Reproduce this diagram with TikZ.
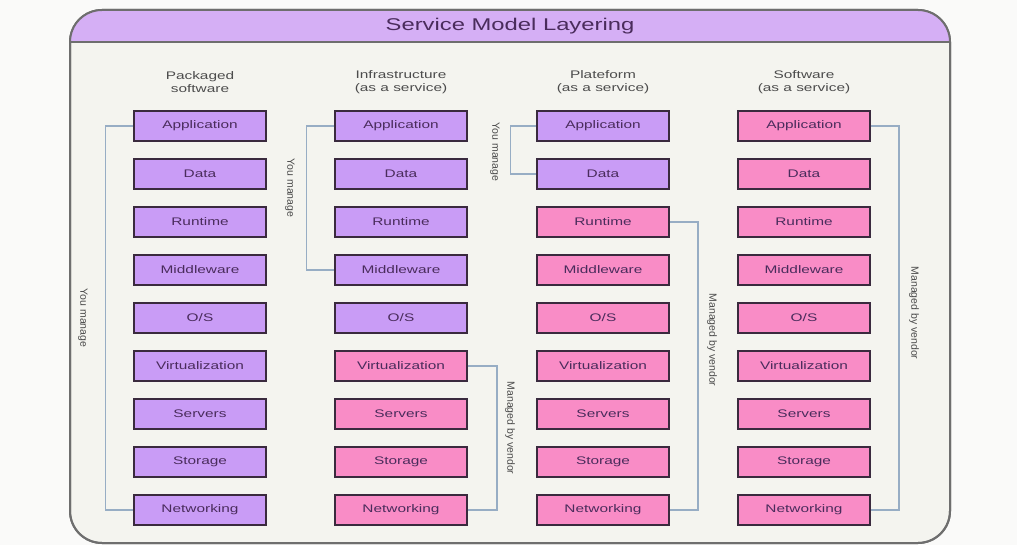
\documentclass[tikz,border=0pt]{standalone}
\usepackage{fontspec}
\setmainfont{Liberation Sans}
\newfontfamily\widefont[FakeStretch=1.4]{Liberation Sans}
\usepackage{tikz}
\usetikzlibrary{positioning}
\definecolor{pagebg}{HTML}{FAFAF9}
\definecolor{panelbg}{HTML}{F4F4EF}
\definecolor{framegray}{HTML}{6E6E6E}
\definecolor{titlefill}{HTML}{D5AFF5}
\definecolor{ownfill}{HTML}{C99CF6}
\definecolor{vendfill}{HTML}{F98CC6}
\definecolor{boxline}{HTML}{3A2A3E}
\definecolor{boxtext}{HTML}{4A2C5C}
\definecolor{linkblue}{HTML}{97ADC4}

\begin{document}
\begin{tikzpicture}[
    x=1pt, y=-1pt,
    layerbox/.style={rectangle, draw=boxline, line width=1.8pt, minimum width=132pt, minimum height=30pt, inner sep=0pt, text=boxtext, font=\widefont\fontsize{11}{13}\selectfont},
    own/.style={fill=ownfill},
    vendor/.style={fill=vendfill},
    header/.style={align=center, text=black!70, font=\widefont\fontsize{11}{13}\selectfont},
    bracket/.style={draw=linkblue, line width=1.2pt},
    sidelabel/.style={rotate=-90, text=black!70, font=\fontsize{10.5}{12}\selectfont},
]

% Page and panel
\fill[pagebg] (0,0) rectangle (1017,545);
\filldraw[fill=panelbg, draw=framegray, line width=2pt, rounded corners=32pt] (70,10) rectangle (950,543);
\begin{scope}
  \clip (70,10) rectangle (950,42);
  \fill[titlefill, rounded corners=32pt] (70,10) rectangle (950,543);
\end{scope}
\draw[framegray, line width=2pt, rounded corners=32pt] (70,10) rectangle (950,543);
\draw[framegray, line width=2pt] (70,42) -- (950,42);
\node[text=boxtext, font=\widefont\fontsize{17}{20}\selectfont] (title) at (510,26) {Service Model Layering};

% Column headers
\node[header] (h1) at (200,82) {Packaged\\software};
\node[header] (h2) at (401,82) {Infrastructure\\(as a service)};
\node[header] (h3) at (603,82) {Plateform\\(as a service)};
\node[header] (h4) at (804,82) {Software\\(as a service)};

% Layer stacks
\foreach \name [count=\r] in {Application,Data,Runtime,Middleware,O/S,Virtualization,Servers,Storage,Networking} {
  \foreach \x/\cut [count=\c] in {200/9,401/5,603/2,804/0} {
    \ifnum\r>\cut \def\lay{vendor}\else\def\lay{own}\fi
    \node[layerbox, \lay] (c\c-\r) at (\x,{78+48*\r}) {\name};
  }
}

% Brackets
\draw[bracket] (c1-1.west) -- ++(-28,0) |- (c1-9.west);
\draw[bracket] (c2-1.west) -- ++(-28,0) |- (c2-4.west);
\draw[bracket] (c2-6.east) -- ++(29,0) |- (c2-9.east);
\draw[bracket] (c3-1.west) -- ++(-26,0) |- (c3-2.west);
\draw[bracket] (c3-3.east) -- ++(28,0) |- (c3-9.east);
\draw[bracket] (c4-1.east) -- ++(28,0) |- (c4-9.east);

% Labels
\node[sidelabel] (m1) at (83,318) {You manage};
\node[sidelabel] (m2) at (290,188) {You manage};
\node[sidelabel] (m3) at (495,152) {You manage};
\node[sidelabel] (v2) at (510,428) {Managed by vendor};
\node[sidelabel] (v3) at (712,340) {Managed by vendor};
\node[sidelabel] (v4) at (914,313) {Managed by vendor};

\end{tikzpicture}
\end{document}
